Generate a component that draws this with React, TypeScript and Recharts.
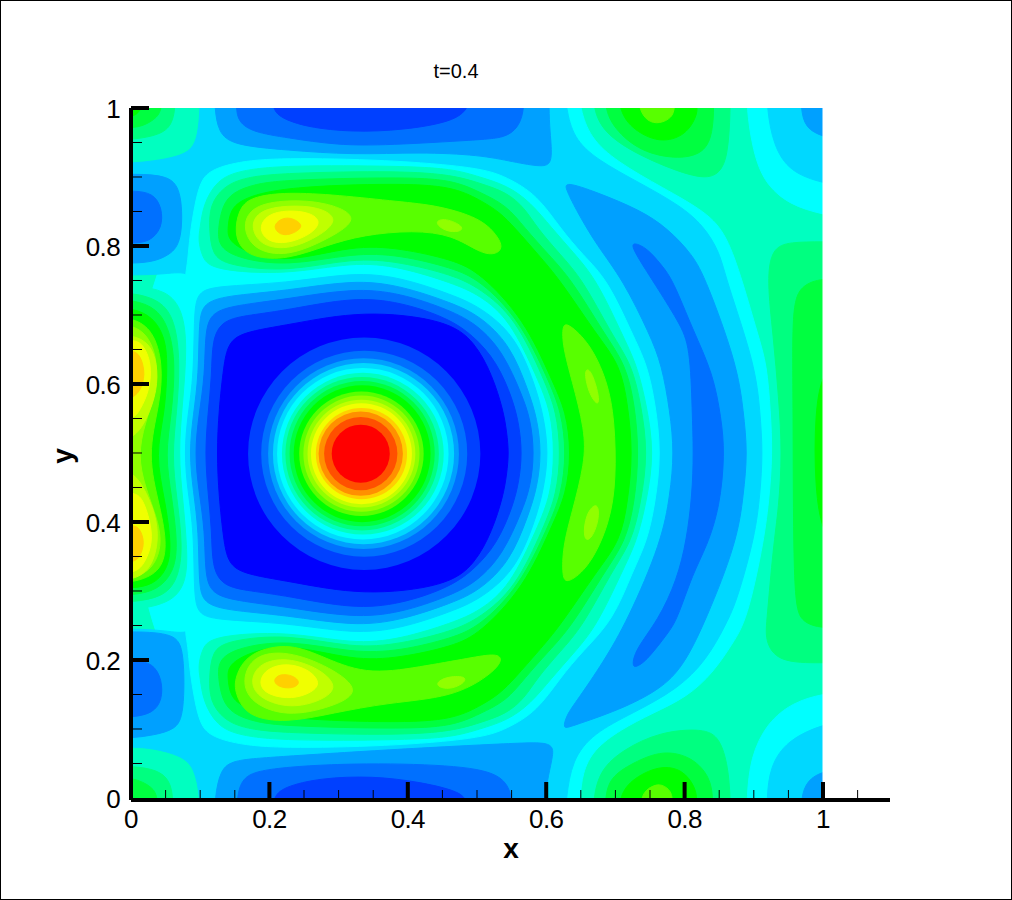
import { ScatterChart, Scatter, XAxis, YAxis, ZAxis, Cell } from 'recharts';

type Pt = [number, number];

// contour level colours, low to high
const C0 = '#0000ff', C1 = '#0040ff', C2 = '#0070ff', C3 = '#00a0ff', C4 = '#00d8ff', C5 = '#00ffff';
const C6 = '#00ffc0', C7 = '#00ff80', C8 = '#00ff40', C9 = '#00ff00', C10 = '#58ff00', C11 = '#90ff00';
const C12 = '#c0ff00', C13 = '#f0ff00', C14 = '#ffd000', C15 = '#ff9000', C16 = '#ff5000', C17 = '#ff0000';

const xTicks = [0, 0.05, 0.1, 0.15, 0.2, 0.25, 0.3, 0.35, 0.4, 0.45, 0.5, 0.55, 0.6, 0.65, 0.7, 0.75, 0.8, 0.85, 0.9, 0.95, 1, 1.05];
const yTicks = [0, 0.05, 0.1, 0.15, 0.2, 0.25, 0.3, 0.35, 0.4, 0.45, 0.5, 0.55, 0.6, 0.65, 0.7, 0.75, 0.8, 0.85, 0.9, 0.95, 1];
const majorTicks = [0, 0.2, 0.4, 0.6, 0.8, 1];

// contour outlines, in x/y data units
const fieldBase: Pt[] = [[0, -0.01], [1, -0.01], [1, 1], [0, 1]];
const cyanField: Pt[] = [[-0.03, 1.033], [0.646, 1.033], [0.649, 1], [0.663, 0.957], [0.702, 0.922], [0.769, 0.884], [0.832, 0.849], [0.861, 0.816], [0.884, 0.748], [0.906, 0.671], [0.919, 0.628], [0.924, 0.56], [0.927, 0.5], [0.922, 0.43], [0.913, 0.364], [0.89, 0.258], [0.87, 0.225], [0.841, 0.181], [0.803, 0.146], [0.754, 0.123], [0.707, 0.099], [0.668, 0.07], [0.652, 0.036], [0.649, -0.001], [0.646, -0.039], [-0.03, -0.039]];
const skyField: Pt[] = [[0.1, 1.033], [0.1, 1], [0.097, 0.961], [0.088, 0.939], [0.066, 0.929], [0.032, 0.923], [0.003, 0.92], [-0.027, 0.92], [-0.045, 0.845], [-0.027, 0.758], [0.003, 0.758], [0.049, 0.759], [0.088, 0.765], [0.094, 0.729], [0.094, 0.265], [0.088, 0.236], [0.049, 0.243], [0.003, 0.245], [-0.027, 0.245], [-0.045, 0.157], [-0.027, 0.074], [0.003, 0.074], [0.032, 0.072], [0.071, 0.062], [0.092, 0.045], [0.1, 0], [0.1, -0.039], [0.626, -0.039], [0.629, -0.001], [0.637, 0.055], [0.668, 0.094], [0.725, 0.123], [0.789, 0.157], [0.832, 0.2], [0.861, 0.254], [0.876, 0.287], [0.902, 0.381], [0.909, 0.44], [0.913, 0.5], [0.909, 0.56], [0.902, 0.628], [0.86, 0.751], [0.851, 0.791], [0.827, 0.83], [0.793, 0.859], [0.736, 0.891], [0.673, 0.925], [0.639, 0.957], [0.629, 1], [0.626, 1.033]];
const cyanDisc: Pt[] = [[0.082, 0.777], [0.085, 0.816], [0.092, 0.859], [0.1, 0.893], [0.114, 0.91], [0.153, 0.922], [0.215, 0.928], [0.37, 0.925], [0.504, 0.914], [0.543, 0.9], [0.587, 0.874], [0.62, 0.826], [0.653, 0.787], [0.689, 0.751], [0.725, 0.671], [0.746, 0.628], [0.758, 0.57], [0.766, 0.5], [0.758, 0.43], [0.746, 0.372], [0.725, 0.329], [0.697, 0.258], [0.653, 0.213], [0.62, 0.174], [0.587, 0.126], [0.543, 0.1], [0.504, 0.086], [0.37, 0.075], [0.215, 0.072], [0.153, 0.078], [0.114, 0.09], [0.1, 0.107], [0.092, 0.141], [0.085, 0.184], [0.082, 0.222], [0.079, 0.236], [0.077, 0.265], [0.077, 0.729], [0.079, 0.762]];

const l3Top: Pt[] = [[0.121, 1.033], [0.121, 1], [0.126, 0.965], [0.147, 0.946], [0.225, 0.939], [0.321, 0.932], [0.418, 0.936], [0.504, 0.932], [0.552, 0.922], [0.595, 0.914], [0.61, 0.92], [0.605, 0.968], [0.604, 1], [0.604, 1.033]];
const l3Bottom: Pt[] = [[0.121, -0.039], [0.121, 0], [0.129, 0.041], [0.147, 0.055], [0.201, 0.059], [0.37, 0.07], [0.562, 0.08], [0.61, 0.081], [0.61, 0.062], [0.603, 0.033], [0.598, 0], [0.598, -0.039]];
const l3PocketTop: Pt[] = [[-0.027, 0.904], [0.003, 0.904], [0.056, 0.903], [0.074, 0.878], [0.074, 0.806], [0.056, 0.787], [0.032, 0.777], [0.003, 0.775], [-0.027, 0.775]];
const l3PocketBottom: Pt[] = [[-0.027, 0.241], [0.003, 0.241], [0.064, 0.239], [0.077, 0.214], [0.077, 0.12], [0.064, 0.099], [0.032, 0.091], [0.003, 0.087], [-0.027, 0.087]];
const l3Arc: Pt[] = [[0.626, 0.894], [0.673, 0.878], [0.736, 0.852], [0.775, 0.826], [0.812, 0.787], [0.831, 0.751], [0.876, 0.628], [0.885, 0.56], [0.891, 0.5], [0.885, 0.44], [0.876, 0.372], [0.831, 0.258], [0.798, 0.19], [0.764, 0.157], [0.707, 0.128], [0.634, 0.103], [0.624, 0.1], [0.629, 0.12], [0.645, 0.142], [0.682, 0.196], [0.718, 0.258], [0.767, 0.372], [0.779, 0.44], [0.785, 0.5], [0.779, 0.56], [0.767, 0.628], [0.75, 0.671], [0.711, 0.751], [0.673, 0.801], [0.645, 0.849], [0.629, 0.881]];

const l2Top: Pt[] = [[0.152, 1.033], [0.152, 1], [0.155, 0.98], [0.176, 0.965], [0.225, 0.957], [0.298, 0.946], [0.37, 0.946], [0.504, 0.954], [0.543, 0.957], [0.562, 0.975], [0.568, 1], [0.568, 1.033]];
const l2Bottom: Pt[] = [[0.153, -0.039], [0.153, 0], [0.16, 0.03], [0.191, 0.043], [0.321, 0.051], [0.465, 0.048], [0.538, 0.036], [0.552, 0], [0.552, -0.039]];
const l2PocketTop: Pt[] = [[-0.027, 0.88], [0.003, 0.88], [0.032, 0.877], [0.045, 0.855], [0.045, 0.826], [0.027, 0.806], [0.003, 0.804], [-0.027, 0.804]];
const l2PocketBottom: Pt[] = [[-0.027, 0.2], [0.003, 0.2], [0.032, 0.196], [0.045, 0.171], [0.045, 0.142], [0.032, 0.123], [0.003, 0.117], [-0.027, 0.117]];
const l2Arc: Pt[] = [[0.725, 0.806], [0.746, 0.797], [0.767, 0.772], [0.783, 0.751], [0.812, 0.678], [0.841, 0.616], [0.853, 0.55], [0.858, 0.5], [0.851, 0.422], [0.832, 0.364], [0.812, 0.326], [0.789, 0.258], [0.776, 0.239], [0.746, 0.2], [0.731, 0.19], [0.724, 0.19], [0.728, 0.214], [0.762, 0.258], [0.789, 0.316], [0.803, 0.374], [0.811, 0.44], [0.813, 0.5], [0.811, 0.56], [0.808, 0.654], [0.793, 0.688], [0.753, 0.751], [0.746, 0.762], [0.724, 0.797]];

const l1Top: Pt[] = [[0.204, 1.033], [0.204, 1], [0.215, 0.986], [0.254, 0.972], [0.321, 0.965], [0.393, 0.968], [0.465, 0.98], [0.49, 1], [0.49, 1.033]];
const l1Bottom: Pt[] = [[0.204, -0.039], [0.204, 0], [0.22, 0.016], [0.273, 0.029], [0.35, 0.032], [0.418, 0.023], [0.465, 0.012], [0.488, 0], [0.488, -0.039]];

const l5TopRight: Pt[] = [[0.89, 1.033], [0.89, 1], [0.897, 0.946], [0.913, 0.893], [0.952, 0.859], [1, 0.846], [1.039, 0.838], [1.039, 1.033]];
const l4TopRight: Pt[] = [[0.919, 1.033], [0.919, 1], [0.928, 0.946], [0.952, 0.907], [1, 0.891], [1.039, 0.885], [1.039, 1.033]];
const l3TopRight: Pt[] = [[0.968, 1.033], [0.968, 1], [0.974, 0.971], [1, 0.958], [1.039, 0.95], [1.039, 1.033]];
const l5BottomRight: Pt[] = [[0.89, -0.039], [0.89, 0], [0.895, 0.059], [0.919, 0.109], [0.957, 0.139], [1, 0.151], [1.039, 0.155], [1.039, -0.039]];
const l4BottomRight: Pt[] = [[0.919, -0.039], [0.919, 0], [0.923, 0.045], [0.948, 0.084], [1, 0.107], [1.039, 0.113], [1.039, -0.039]];
const l3BottomRight: Pt[] = [[0.968, -0.039], [0.968, 0], [0.977, 0.026], [1, 0.039], [1.039, 0.045], [1.039, -0.039]];

const lowL4: Pt[] = [[0.077, 0.5], [0.082, 0.555], [0.091, 0.613], [0.091, 0.707], [0.097, 0.733], [0.121, 0.742], [0.225, 0.746], [0.321, 0.762], [0.389, 0.755], [0.465, 0.729], [0.504, 0.712], [0.555, 0.671], [0.584, 0.599], [0.597, 0.55], [0.603, 0.5], [0.597, 0.45], [0.584, 0.401], [0.555, 0.329], [0.504, 0.288], [0.465, 0.271], [0.389, 0.245], [0.321, 0.238], [0.225, 0.254], [0.121, 0.258], [0.097, 0.267], [0.091, 0.293], [0.091, 0.387], [0.082, 0.445]];
const lowL3: Pt[] = [[0.084, 0.5], [0.09, 0.555], [0.098, 0.613], [0.098, 0.693], [0.105, 0.717], [0.136, 0.728], [0.225, 0.735], [0.321, 0.751], [0.389, 0.743], [0.465, 0.717], [0.504, 0.699], [0.548, 0.657], [0.574, 0.591], [0.587, 0.55], [0.593, 0.5], [0.587, 0.45], [0.574, 0.409], [0.548, 0.343], [0.504, 0.301], [0.465, 0.283], [0.389, 0.257], [0.321, 0.249], [0.225, 0.265], [0.136, 0.272], [0.105, 0.283], [0.098, 0.307], [0.098, 0.387], [0.09, 0.445]];
const lowL2: Pt[] = [[0.092, 0.5], [0.098, 0.555], [0.107, 0.613], [0.107, 0.678], [0.117, 0.704], [0.15, 0.714], [0.225, 0.723], [0.321, 0.739], [0.389, 0.732], [0.461, 0.707], [0.501, 0.686], [0.538, 0.646], [0.565, 0.584], [0.577, 0.55], [0.583, 0.5], [0.577, 0.45], [0.565, 0.416], [0.538, 0.354], [0.501, 0.314], [0.461, 0.293], [0.389, 0.268], [0.321, 0.261], [0.225, 0.277], [0.15, 0.286], [0.117, 0.296], [0.107, 0.322], [0.107, 0.387], [0.098, 0.445]];
const lowL1: Pt[] = [[0.107, 0.5], [0.111, 0.555], [0.117, 0.613], [0.117, 0.664], [0.132, 0.693], [0.172, 0.7], [0.225, 0.707], [0.321, 0.726], [0.389, 0.719], [0.457, 0.696], [0.494, 0.671], [0.529, 0.632], [0.552, 0.577], [0.561, 0.54], [0.565, 0.5], [0.561, 0.46], [0.552, 0.423], [0.529, 0.368], [0.494, 0.329], [0.457, 0.304], [0.389, 0.281], [0.321, 0.274], [0.225, 0.293], [0.172, 0.3], [0.132, 0.307], [0.117, 0.336], [0.117, 0.387], [0.111, 0.445]];
const lowL0: Pt[] = [[0.124, 0.5], [0.127, 0.562], [0.134, 0.628], [0.14, 0.657], [0.158, 0.675], [0.23, 0.686], [0.335, 0.707], [0.457, 0.693], [0.497, 0.661], [0.522, 0.613], [0.538, 0.562], [0.543, 0.53], [0.546, 0.5], [0.543, 0.47], [0.538, 0.438], [0.522, 0.387], [0.497, 0.339], [0.457, 0.307], [0.335, 0.293], [0.23, 0.314], [0.158, 0.325], [0.14, 0.343], [0.134, 0.372], [0.127, 0.438]];

const arcL6: Pt[] = [[0.097, 0.809], [0.1, 0.826], [0.104, 0.859], [0.124, 0.896], [0.158, 0.91], [0.225, 0.917], [0.389, 0.916], [0.465, 0.912], [0.504, 0.9], [0.543, 0.888], [0.577, 0.864], [0.608, 0.826], [0.639, 0.791], [0.673, 0.751], [0.71, 0.671], [0.731, 0.628], [0.745, 0.57], [0.756, 0.5], [0.745, 0.43], [0.731, 0.372], [0.71, 0.329], [0.673, 0.249], [0.639, 0.209], [0.608, 0.174], [0.577, 0.136], [0.543, 0.112], [0.504, 0.1], [0.465, 0.088], [0.389, 0.084], [0.225, 0.083], [0.158, 0.09], [0.124, 0.104], [0.104, 0.141], [0.1, 0.174], [0.097, 0.191], [0.103, 0.217], [0.117, 0.235], [0.225, 0.242], [0.321, 0.223], [0.389, 0.23], [0.465, 0.254], [0.504, 0.271], [0.548, 0.307], [0.587, 0.391], [0.607, 0.44], [0.612, 0.5], [0.607, 0.56], [0.587, 0.609], [0.548, 0.693], [0.504, 0.729], [0.465, 0.746], [0.389, 0.77], [0.321, 0.777], [0.225, 0.758], [0.117, 0.765], [0.103, 0.783]];
const arcL7: Pt[] = [[0.113, 0.826], [0.114, 0.859], [0.133, 0.886], [0.165, 0.9], [0.225, 0.906], [0.389, 0.909], [0.465, 0.903], [0.504, 0.891], [0.543, 0.878], [0.569, 0.855], [0.587, 0.826], [0.62, 0.788], [0.653, 0.751], [0.695, 0.671], [0.724, 0.628], [0.737, 0.57], [0.747, 0.5], [0.737, 0.43], [0.724, 0.372], [0.695, 0.329], [0.653, 0.249], [0.62, 0.212], [0.587, 0.174], [0.569, 0.145], [0.543, 0.122], [0.504, 0.109], [0.465, 0.097], [0.389, 0.091], [0.225, 0.094], [0.165, 0.1], [0.133, 0.114], [0.114, 0.141], [0.113, 0.174], [0.117, 0.213], [0.139, 0.228], [0.225, 0.238], [0.321, 0.217], [0.389, 0.223], [0.465, 0.242], [0.504, 0.261], [0.556, 0.304], [0.597, 0.394], [0.615, 0.44], [0.621, 0.5], [0.615, 0.56], [0.597, 0.606], [0.556, 0.696], [0.504, 0.739], [0.465, 0.758], [0.389, 0.777], [0.321, 0.783], [0.225, 0.762], [0.139, 0.772], [0.117, 0.787]];
const arcL8: Pt[] = [[0.126, 0.826], [0.132, 0.859], [0.147, 0.878], [0.179, 0.89], [0.225, 0.896], [0.389, 0.9], [0.465, 0.896], [0.504, 0.878], [0.543, 0.859], [0.569, 0.826], [0.603, 0.788], [0.637, 0.751], [0.685, 0.671], [0.715, 0.628], [0.728, 0.57], [0.734, 0.5], [0.728, 0.43], [0.715, 0.372], [0.685, 0.329], [0.637, 0.249], [0.603, 0.212], [0.569, 0.174], [0.543, 0.141], [0.504, 0.122], [0.465, 0.104], [0.389, 0.1], [0.225, 0.104], [0.179, 0.11], [0.147, 0.122], [0.132, 0.141], [0.126, 0.174], [0.126, 0.199], [0.15, 0.217], [0.225, 0.23], [0.321, 0.21], [0.389, 0.213], [0.465, 0.232], [0.504, 0.249], [0.562, 0.307], [0.603, 0.394], [0.622, 0.44], [0.629, 0.5], [0.622, 0.56], [0.603, 0.606], [0.562, 0.693], [0.504, 0.751], [0.465, 0.768], [0.389, 0.787], [0.321, 0.79], [0.225, 0.77], [0.15, 0.783], [0.126, 0.801]];
const arcL9: Pt[] = [[0.14, 0.826], [0.143, 0.852], [0.162, 0.87], [0.225, 0.886], [0.389, 0.891], [0.465, 0.886], [0.504, 0.867], [0.533, 0.849], [0.555, 0.826], [0.588, 0.788], [0.62, 0.751], [0.673, 0.671], [0.707, 0.628], [0.718, 0.57], [0.725, 0.5], [0.718, 0.43], [0.707, 0.372], [0.673, 0.329], [0.62, 0.249], [0.588, 0.212], [0.555, 0.174], [0.533, 0.151], [0.504, 0.133], [0.465, 0.114], [0.389, 0.109], [0.225, 0.114], [0.162, 0.13], [0.143, 0.148], [0.14, 0.174], [0.14, 0.191], [0.165, 0.209], [0.225, 0.225], [0.321, 0.199], [0.389, 0.203], [0.465, 0.22], [0.504, 0.238], [0.569, 0.307], [0.608, 0.394], [0.629, 0.44], [0.636, 0.5], [0.629, 0.56], [0.608, 0.606], [0.569, 0.693], [0.504, 0.762], [0.465, 0.78], [0.389, 0.797], [0.321, 0.801], [0.225, 0.775], [0.165, 0.791], [0.14, 0.809]];

const l10Upper: Pt[] = [[0.15, 0.826], [0.158, 0.859], [0.179, 0.872], [0.225, 0.878], [0.298, 0.874], [0.389, 0.864], [0.442, 0.859], [0.504, 0.841], [0.529, 0.816], [0.538, 0.797], [0.526, 0.787], [0.504, 0.79], [0.465, 0.816], [0.408, 0.823], [0.335, 0.816], [0.283, 0.801], [0.225, 0.78], [0.176, 0.783], [0.155, 0.801]];
const l10Lower: Pt[] = [[0.15, 0.175], [0.168, 0.21], [0.225, 0.225], [0.273, 0.207], [0.338, 0.178], [0.418, 0.19], [0.49, 0.203], [0.529, 0.21], [0.538, 0.2], [0.519, 0.178], [0.465, 0.146], [0.37, 0.138], [0.292, 0.123], [0.225, 0.109], [0.168, 0.117], [0.15, 0.152]];
const l10Right: Pt[] = [[0.623, 0.686], [0.632, 0.688], [0.663, 0.659], [0.688, 0.606], [0.699, 0.548], [0.701, 0.461], [0.692, 0.399], [0.663, 0.335], [0.63, 0.31], [0.623, 0.32], [0.624, 0.364], [0.637, 0.413], [0.656, 0.486], [0.656, 0.533], [0.637, 0.606], [0.624, 0.654]];
const l11SpotUpper: Pt[] = [[0.437, 0.835], [0.454, 0.841], [0.482, 0.828], [0.475, 0.82], [0.454, 0.821]];
const l11SpotLower: Pt[] = [[0.437, 0.164], [0.454, 0.176], [0.485, 0.177], [0.482, 0.166], [0.458, 0.156]];
const l11SpotRight1: Pt[] = [[0.654, 0.622], [0.665, 0.622], [0.677, 0.581], [0.675, 0.567], [0.661, 0.587]];
const l11SpotRight2: Pt[] = [[0.653, 0.375], [0.657, 0.413], [0.675, 0.431], [0.677, 0.403], [0.664, 0.372]];

const blobTopL11: Pt[] = [[0.16, 0.83], [0.176, 0.859], [0.225, 0.867], [0.283, 0.864], [0.335, 0.841], [0.283, 0.809], [0.225, 0.784], [0.176, 0.794]];
const blobTopL12: Pt[] = [[0.172, 0.83], [0.186, 0.852], [0.225, 0.859], [0.273, 0.857], [0.302, 0.838], [0.269, 0.812], [0.225, 0.794], [0.186, 0.801]];
const blobTopL13: Pt[] = [[0.184, 0.826], [0.197, 0.846], [0.225, 0.852], [0.259, 0.849], [0.276, 0.835], [0.259, 0.816], [0.225, 0.803], [0.197, 0.806]];
const blobTopL14: Pt[] = [[0.205, 0.828], [0.215, 0.839], [0.23, 0.842], [0.246, 0.833], [0.246, 0.825], [0.23, 0.816], [0.215, 0.816]];
const blobBottomL11: Pt[] = [[0.16, 0.171], [0.176, 0.207], [0.225, 0.214], [0.288, 0.19], [0.335, 0.155], [0.292, 0.132], [0.225, 0.117], [0.172, 0.138]];
const blobBottomL12: Pt[] = [[0.172, 0.171], [0.186, 0.196], [0.225, 0.204], [0.273, 0.188], [0.302, 0.159], [0.269, 0.138], [0.225, 0.13], [0.182, 0.146]];
const blobBottomL13: Pt[] = [[0.185, 0.171], [0.197, 0.188], [0.225, 0.196], [0.259, 0.186], [0.276, 0.164], [0.254, 0.149], [0.225, 0.143], [0.191, 0.152]];
const blobBottomL14: Pt[] = [[0.205, 0.171], [0.215, 0.18], [0.234, 0.178], [0.246, 0.167], [0.233, 0.158], [0.212, 0.161]];

const edgeL6: Pt[] = [[-0.03, 0.743], [0.003, 0.743], [0.052, 0.736], [0.075, 0.707], [0.081, 0.654], [0.075, 0.577], [0.068, 0.5], [0.075, 0.432], [0.081, 0.364], [0.081, 0.316], [0.061, 0.283], [0.003, 0.272], [-0.03, 0.272]];
const edgeL7: Pt[] = [[-0.03, 0.732], [0.003, 0.732], [0.042, 0.722], [0.064, 0.693], [0.071, 0.63], [0.066, 0.558], [0.059, 0.497], [0.066, 0.436], [0.075, 0.364], [0.068, 0.316], [0.046, 0.291], [0.003, 0.284], [-0.03, 0.284]];
const edgeL8: Pt[] = [[-0.03, 0.722], [0.003, 0.722], [0.038, 0.71], [0.056, 0.678], [0.064, 0.63], [0.059, 0.558], [0.049, 0.497], [0.059, 0.436], [0.068, 0.364], [0.061, 0.326], [0.038, 0.301], [0.003, 0.294], [-0.03, 0.294]];
const edgeL9: Pt[] = [[-0.03, 0.71], [0.003, 0.71], [0.032, 0.697], [0.049, 0.668], [0.053, 0.63], [0.049, 0.558], [0.035, 0.497], [0.049, 0.432], [0.059, 0.364], [0.052, 0.33], [0.032, 0.309], [0.003, 0.304], [-0.03, 0.304]];
const edgeL10: Pt[] = [[-0.03, 0.696], [0.003, 0.696], [0.032, 0.678], [0.046, 0.63], [0.042, 0.572], [0.023, 0.497], [0.042, 0.422], [0.053, 0.364], [0.042, 0.326], [0.003, 0.312], [-0.03, 0.312]];
const edgeL11: Pt[] = [[-0.03, 0.686], [0.003, 0.686], [0.027, 0.668], [0.039, 0.63], [0.035, 0.584], [0.02, 0.543], [0.01, 0.497], [0.02, 0.451], [0.039, 0.403], [0.045, 0.364], [0.03, 0.33], [0.003, 0.319], [-0.03, 0.319]];
const edgeL12Upper: Pt[] = [[-0.03, 0.671], [0.003, 0.671], [0.027, 0.659], [0.038, 0.63], [0.038, 0.591], [0.023, 0.548], [0.003, 0.519], [-0.03, 0.519]];
const edgeL12Lower: Pt[] = [[-0.03, 0.475], [0.003, 0.475], [0.023, 0.442], [0.038, 0.403], [0.039, 0.364], [0.027, 0.33], [0.003, 0.316], [-0.03, 0.316]];
const edgeL13Upper: Pt[] = [[-0.03, 0.664], [0.003, 0.664], [0.017, 0.659], [0.03, 0.63], [0.027, 0.591], [0.013, 0.562], [0.003, 0.548], [-0.03, 0.548]];
const edgeL13Lower: Pt[] = [[-0.03, 0.443], [0.003, 0.443], [0.017, 0.436], [0.03, 0.393], [0.03, 0.364], [0.017, 0.335], [0.003, 0.326], [-0.03, 0.326]];
const edgeL14Upper: Pt[] = [[-0.03, 0.649], [0.003, 0.649], [0.013, 0.642], [0.02, 0.62], [0.017, 0.596], [0.003, 0.577], [-0.03, 0.577]];
const edgeL14Lower: Pt[] = [[-0.03, 0.396], [0.003, 0.396], [0.013, 0.391], [0.02, 0.37], [0.013, 0.349], [0.003, 0.341], [-0.03, 0.341]];

const cornerTLL6: Pt[] = [[-0.03, 1.033], [0.082, 1.033], [0.082, 1], [0.078, 0.965], [0.066, 0.946], [0.038, 0.939], [0.003, 0.936], [-0.03, 0.936]];
const cornerTLL7: Pt[] = [[-0.03, 1.033], [0.064, 1.033], [0.064, 1], [0.059, 0.975], [0.042, 0.961], [0.003, 0.954], [-0.03, 0.954]];
const cornerTLL8: Pt[] = [[-0.03, 1.033], [0.045, 1.033], [0.045, 1], [0.038, 0.986], [0.02, 0.975], [0.003, 0.971], [-0.03, 0.971]];
const cornerTLL9: Pt[] = [[-0.03, 1.033], [0.016, 1.033], [0.016, 1], [0.01, 0.993], [0.003, 0.987], [-0.03, 0.987]];
const cornerBLL6: Pt[] = [[0.082, -0.039], [0.082, 0], [0.075, 0.03], [0.056, 0.051], [0.003, 0.059], [-0.03, 0.059], [-0.03, -0.039]];
const cornerBLL7: Pt[] = [[0.061, -0.039], [0.061, 0], [0.056, 0.026], [0.038, 0.041], [0.003, 0.046], [-0.03, 0.046], [-0.03, -0.039]];
const cornerBLL8: Pt[] = [[0.039, -0.039], [0.039, 0], [0.032, 0.016], [0.003, 0.03], [-0.03, 0.03], [-0.03, -0.039]];

const topMidL7: Pt[] = [[0.668, 1.033], [0.668, 1], [0.682, 0.965], [0.731, 0.932], [0.812, 0.899], [0.847, 0.899], [0.863, 0.928], [0.866, 1], [0.866, 1.033]];
const topMidL8: Pt[] = [[0.685, 1.033], [0.685, 1], [0.697, 0.971], [0.736, 0.936], [0.793, 0.925], [0.832, 0.936], [0.841, 0.971], [0.842, 1], [0.842, 1.033]];
const topMidL9: Pt[] = [[0.705, 1.033], [0.705, 1], [0.721, 0.971], [0.764, 0.948], [0.803, 0.961], [0.818, 0.99], [0.818, 1], [0.818, 1.033]];
const topMidL10: Pt[] = [[0.733, 1.033], [0.733, 1], [0.746, 0.98], [0.764, 0.977], [0.782, 0.986], [0.786, 1], [0.786, 1.033]];
const botMidL7: Pt[] = [[0.668, -0.039], [0.668, 0], [0.678, 0.041], [0.711, 0.07], [0.764, 0.096], [0.827, 0.101], [0.851, 0.088], [0.863, 0.045], [0.866, 0], [0.866, -0.039]];
const botMidL8: Pt[] = [[0.685, -0.039], [0.685, 0], [0.692, 0.03], [0.725, 0.051], [0.769, 0.07], [0.812, 0.059], [0.837, 0.03], [0.841, 0], [0.841, -0.039]];
const botMidL9: Pt[] = [[0.705, -0.039], [0.705, 0], [0.721, 0.026], [0.764, 0.048], [0.798, 0.041], [0.815, 0.016], [0.818, 0], [0.818, -0.039]];
const botMidL10: Pt[] = [[0.736, -0.039], [0.736, 0], [0.746, 0.014], [0.764, 0.022], [0.779, 0.012], [0.783, 0], [0.783, -0.039]];

const rightL7: Pt[] = [[1.039, 0.806], [1, 0.806], [0.952, 0.806], [0.926, 0.797], [0.919, 0.751], [0.928, 0.671], [0.936, 0.58], [0.941, 0.5], [0.936, 0.42], [0.928, 0.364], [0.919, 0.258], [0.916, 0.229], [0.934, 0.196], [1, 0.196], [1.039, 0.196]];
const rightL8: Pt[] = [[1.039, 0.75], [1, 0.754], [0.967, 0.743], [0.955, 0.71], [0.957, 0.577], [0.957, 0.291], [0.967, 0.254], [1, 0.246], [1.039, 0.246]];
const rightL9: Pt[] = [[1.039, 0.64], [1, 0.625], [0.988, 0.558], [0.988, 0.451], [1, 0.374], [1.039, 0.35]];

const outsideRight: Pt[] = [[1, -0.05], [1.2, -0.05], [1.2, 1.05], [1, 1.05]];

// central peak, drawn as circles: centre and contour radius per level, outermost first
const peakX = [0.337, 0.337, 0.336, 0.336, 0.335, 0.335, 0.334, 0.334, 0.334, 0.333, 0.333, 0.333, 0.333, 0.333, 0.332, 0.332, 0.332];
const peakY = [0.499, 0.499, 0.499, 0.499, 0.499, 0.499, 0.499, 0.499, 0.499, 0.499, 0.499, 0.499, 0.499, 0.499, 0.499, 0.499, 0.499];
const peakRadius = [0.168, 0.149, 0.138, 0.131, 0.124, 0.117, 0.111, 0.105, 0.099, 0.09, 0.084, 0.078, 0.073, 0.066, 0.061, 0.053, 0.042];
const peakColors = [C1, C2, C3, C4, C5, C6, C7, C8, C9, C10, C11, C12, C13, C14, C15, C16, C17];

const layers: { color: string; pts: Pt[]; curve?: string }[] = [
  { color: C6, pts: fieldBase, curve: 'linearClosed' },
  { color: C5, pts: cyanField },
  { color: C4, pts: skyField },
  { color: C5, pts: cyanDisc },
  { color: C3, pts: l3Top }, { color: C3, pts: l3Bottom }, { color: C3, pts: l3PocketTop }, { color: C3, pts: l3PocketBottom }, { color: C3, pts: l3Arc },
  { color: C2, pts: l2Top }, { color: C2, pts: l2Bottom }, { color: C2, pts: l2PocketTop }, { color: C2, pts: l2PocketBottom }, { color: C2, pts: l2Arc },
  { color: C1, pts: l1Top }, { color: C1, pts: l1Bottom },
  { color: C5, pts: l5TopRight }, { color: C4, pts: l4TopRight }, { color: C3, pts: l3TopRight },
  { color: C5, pts: l5BottomRight }, { color: C4, pts: l4BottomRight }, { color: C3, pts: l3BottomRight },
  { color: C4, pts: lowL4 }, { color: C3, pts: lowL3 }, { color: C2, pts: lowL2 }, { color: C1, pts: lowL1 }, { color: C0, pts: lowL0 },
  { color: C6, pts: arcL6 }, { color: C7, pts: arcL7 }, { color: C8, pts: arcL8 }, { color: C9, pts: arcL9 },
  { color: C10, pts: l10Upper }, { color: C10, pts: l10Lower }, { color: C10, pts: l10Right },
  { color: C11, pts: l11SpotUpper }, { color: C11, pts: l11SpotLower }, { color: C11, pts: l11SpotRight1 }, { color: C11, pts: l11SpotRight2 },
  { color: C11, pts: blobTopL11 }, { color: C12, pts: blobTopL12 }, { color: C13, pts: blobTopL13 }, { color: C14, pts: blobTopL14 },
  { color: C11, pts: blobBottomL11 }, { color: C12, pts: blobBottomL12 }, { color: C13, pts: blobBottomL13 }, { color: C14, pts: blobBottomL14 },
  { color: C6, pts: edgeL6 }, { color: C7, pts: edgeL7 }, { color: C8, pts: edgeL8 }, { color: C9, pts: edgeL9 }, { color: C10, pts: edgeL10 }, { color: C11, pts: edgeL11 },
  { color: C12, pts: edgeL12Upper }, { color: C12, pts: edgeL12Lower }, { color: C13, pts: edgeL13Upper }, { color: C13, pts: edgeL13Lower }, { color: C14, pts: edgeL14Upper }, { color: C14, pts: edgeL14Lower },
  { color: C6, pts: cornerTLL6 }, { color: C7, pts: cornerTLL7 }, { color: C8, pts: cornerTLL8 }, { color: C9, pts: cornerTLL9 },
  { color: C6, pts: cornerBLL6 }, { color: C7, pts: cornerBLL7 }, { color: C8, pts: cornerBLL8 },
  { color: C7, pts: topMidL7 }, { color: C8, pts: topMidL8 }, { color: C9, pts: topMidL9 }, { color: C10, pts: topMidL10 },
  { color: C7, pts: botMidL7 }, { color: C8, pts: botMidL8 }, { color: C9, pts: botMidL9 }, { color: C10, pts: botMidL10 },
  { color: C7, pts: rightL7 }, { color: C8, pts: rightL8 }, { color: C9, pts: rightL9 },
];

const peakRows = peakRadius.map((r, i) => ({ x: peakX[i], y: peakY[i], z: Math.PI * r * r }));
const toRows = (pts: Pt[]) => pts.map(([x, y]) => ({ x, y }));
const isMajor = (v: number) => majorTicks.includes(v);
const labelFont = 'Liberation Sans, Arial, sans-serif';

function NoMark() {
  return <g />;
}

function XTick({ x, y, payload }: any) {
  const major = isMajor(payload.value);
  return (
    <g>
      <line x1={x} x2={x} y1={y} y2={y - (major ? 18 : 10)} stroke="#000" strokeWidth={major ? 4 : 1} />
      {major && <text x={x} y={y + 28} textAnchor="middle" fontSize={26} letterSpacing={-0.6} fontFamily={labelFont}>{payload.value}</text>}
    </g>
  );
}

function YTick({ x, y, payload }: any) {
  const major = isMajor(payload.value);
  return (
    <g>
      {payload.value !== 0 && <line x1={x} x2={x + (major ? 18 : 11)} y1={y} y2={y} stroke="#000" strokeWidth={major ? 4 : 1} />}
      {major && <text x={x - 11} y={y + 10} textAnchor="end" fontSize={26} letterSpacing={-0.6} fontFamily={labelFont}>{payload.value}</text>}
    </g>
  );
}

export default function App() {
  return (
    <div style={{ position: 'absolute', left: 0, top: 0, width: 1012, height: 900, background: '#fff' }}>
      <ScatterChart width={1012} height={900} margin={{ top: 108, right: 122, bottom: 0, left: 0 }}>
        <XAxis type="number" dataKey="x" domain={[0, 1.0968]} allowDataOverflow ticks={xTicks} interval={0} height={100} tickSize={0} tickMargin={0} tickLine={false} axisLine={{ stroke: '#000', strokeWidth: 4 }} tick={XTick} zIndex={900} />
        <YAxis type="number" dataKey="y" domain={[-0.0029, 1]} allowDataOverflow ticks={yTicks} interval={0} width={131} tickSize={0} tickMargin={0} tickLine={false} axisLine={{ stroke: '#000', strokeWidth: 4 }} tick={YTick} zIndex={900} />
        <ZAxis type="number" dataKey="z" domain={[0, 1]} range={[0, 478000]} />
        {layers.map((layer, i) => (
          <Scatter
            key={i}
            data={toRows(layer.pts)}
            fill={layer.color}
            line={{ fill: layer.color, stroke: layer.color, strokeWidth: 1 }}
            lineType="joint"
            lineJointType={(layer.curve ?? 'basisClosed') as any}
            shape={NoMark}
            isAnimationActive={false}
          />
        ))}
        <Scatter data={peakRows} isAnimationActive={false}>
          {peakRows.map((_, i) => <Cell key={i} fill={peakColors[i]} />)}
        </Scatter>
        <Scatter data={toRows(outsideRight)} fill="#fff" line={{ fill: '#fff', stroke: '#fff' }} lineType="joint" lineJointType={'linearClosed' as any} shape={NoMark} isAnimationActive={false} />
        <text x={456} y={78} textAnchor="middle" fontSize={20} fontFamily={labelFont}>t=0.4</text>
        <text x={511} y={858} textAnchor="middle" fontSize={28} fontWeight="bold" fontFamily={labelFont}>x</text>
        <text x={72} y={456} textAnchor="middle" fontSize={28} fontWeight="bold" fontFamily={labelFont} transform="rotate(-90 72 456)">y</text>
        <rect x={0.5} y={0.5} width={1011} height={899} fill="none" stroke="#000" />
      </ScatterChart>
    </div>
  );
}
